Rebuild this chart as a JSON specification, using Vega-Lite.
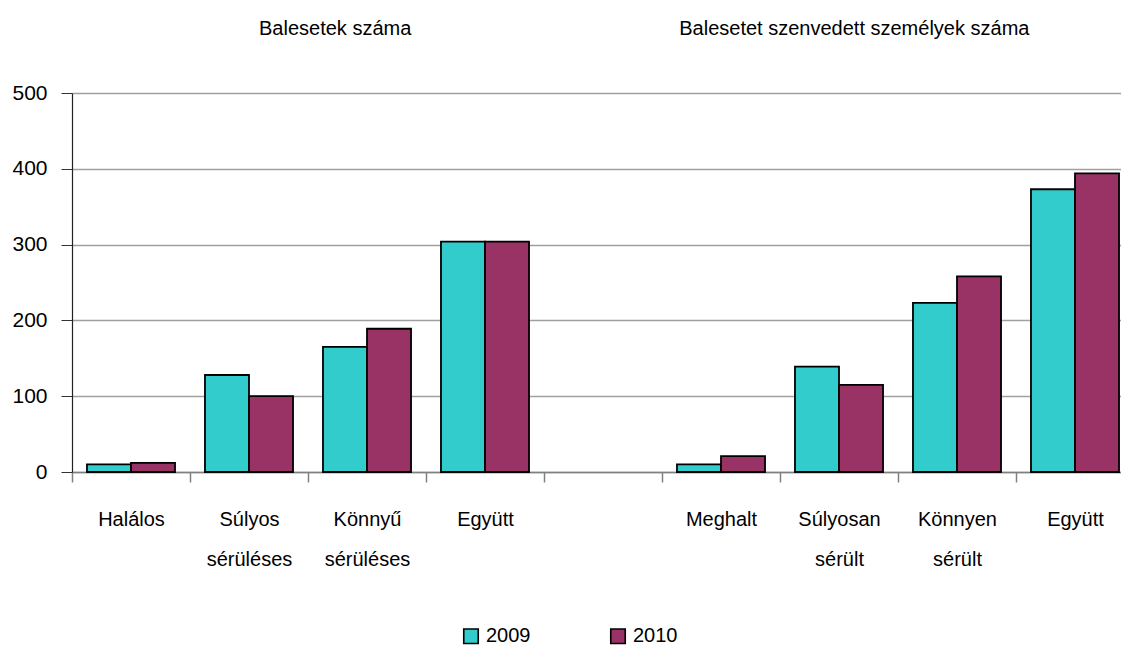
{
  "$schema": "https://vega.github.io/schema/vega-lite/v6.json",
  "width": 1049,
  "height": 379,
  "autosize": {"type": "none"},
  "padding": {"left": 72, "top": 93, "right": 0, "bottom": 174},
  "background": "white",
  "config": {
    "view": {"stroke": null},
    "font": "Liberation Sans",
    "axis": {"labelFont": "Liberation Sans", "labelColor": "black"},
    "legend": {"labelFont": "Liberation Sans"}
  },
  "datasets": {
    "bars": [
      {"cat": "Halálos", "year": "2009", "value": 10},
      {"cat": "Halálos", "year": "2010", "value": 12},
      {"cat": "Súlyos|sérüléses", "year": "2009", "value": 128},
      {"cat": "Súlyos|sérüléses", "year": "2010", "value": 100},
      {"cat": "Könnyű|sérüléses", "year": "2009", "value": 165},
      {"cat": "Könnyű|sérüléses", "year": "2010", "value": 189},
      {"cat": "Együtt", "year": "2009", "value": 304},
      {"cat": "Együtt", "year": "2010", "value": 304},
      {"cat": "Meghalt", "year": "2009", "value": 10},
      {"cat": "Meghalt", "year": "2010", "value": 21},
      {"cat": "Súlyosan|sérült", "year": "2009", "value": 139},
      {"cat": "Súlyosan|sérült", "year": "2010", "value": 115},
      {"cat": "Könnyen|sérült", "year": "2009", "value": 223},
      {"cat": "Könnyen|sérült", "year": "2010", "value": 258},
      {"cat": "Együtt|", "year": "2009", "value": 373},
      {"cat": "Együtt|", "year": "2010", "value": 394}
    ],
    "title1": [
      {"cat": "Könnyű|sérüléses", "title": "Balesetek száma"}
    ],
    "title2": [
      {"cat": "Súlyosan|sérült", "title": "Balesetet szenvedett személyek száma"}
    ]
  },
  "layer": [
    {
      "data": {"name": "bars"},
      "mark": {"type": "bar", "stroke": "black", "strokeWidth": 1.8},
      "encoding": {
        "x": {
          "field": "cat",
          "type": "nominal",
          "sort": null,
          "scale": {
            "domain": ["Halálos", "Súlyos|sérüléses", "Könnyű|sérüléses", "Együtt", "-", "Meghalt", "Súlyosan|sérült", "Könnyen|sérült", "Együtt|"],
            "range": [0, 1062],
            "paddingInner": 0,
            "paddingOuter": 0
          },
          "axis": {
            "title": null,
            "labelAngle": 0,
            "labelExpr": "isString(datum.value) && datum.value != '-' ? split(datum.value, '|') : ''",
            "labelFontSize": 20,
            "labelLineHeight": 40,
            "labelPadding": 27,
            "labelBaseline": "top",
            "tickBand": "extent",
            "tickSize": 10,
            "tickColor": "#808080",
            "tickWidth": 1.5,
            "domainColor": "#808080",
            "domainWidth": 1.5,
            "grid": false
          }
        },
        "xOffset": {
          "field": "year",
          "type": "nominal",
          "scale": {"paddingInner": 0, "paddingOuter": 0.34}
        },
        "y": {
          "field": "value",
          "type": "quantitative",
          "scale": {"domain": [0, 500], "nice": false},
          "axis": {
            "title": null,
            "values": [0, 100, 200, 300, 400, 500],
            "labelFontSize": 21,
            "labelPadding": 14,
            "tickSize": 11,
            "tickColor": "#333333",
            "domainColor": "#222222",
            "domainWidth": 1.2,
            "grid": true,
            "gridColor": "#a0a0a0",
            "gridWidth": 1.6
          }
        },
        "color": {
          "field": "year",
          "type": "nominal",
          "scale": {"domain": ["2009", "2010"], "range": ["#33CCCC", "#993366"]},
          "legend": {
            "title": null,
            "orient": "none",
            "direction": "horizontal",
            "legendX": 389,
            "legendY": 533,
            "symbolType": "square",
            "symbolSize": 210,
            "symbolStrokeColor": "black",
            "symbolStrokeWidth": 1.6,
            "labelFontSize": 20,
            "labelOffset": 5,
            "columnPadding": 76
          }
        }
      }
    },
    {
      "data": {"name": "title1"},
      "mark": {"type": "text", "fontSize": 20, "align": "center", "baseline": "middle", "color": "black"},
      "encoding": {
        "x": {"field": "cat", "type": "nominal", "bandPosition": 0.23},
        "y": {"datum": 585, "type": "quantitative"},
        "text": {"field": "title"}
      }
    },
    {
      "data": {"name": "title2"},
      "mark": {"type": "text", "fontSize": 20, "align": "center", "baseline": "middle", "color": "black"},
      "encoding": {
        "x": {"field": "cat", "type": "nominal", "bandPosition": 0.63},
        "y": {"datum": 585, "type": "quantitative"},
        "text": {"field": "title"}
      }
    }
  ]
}
